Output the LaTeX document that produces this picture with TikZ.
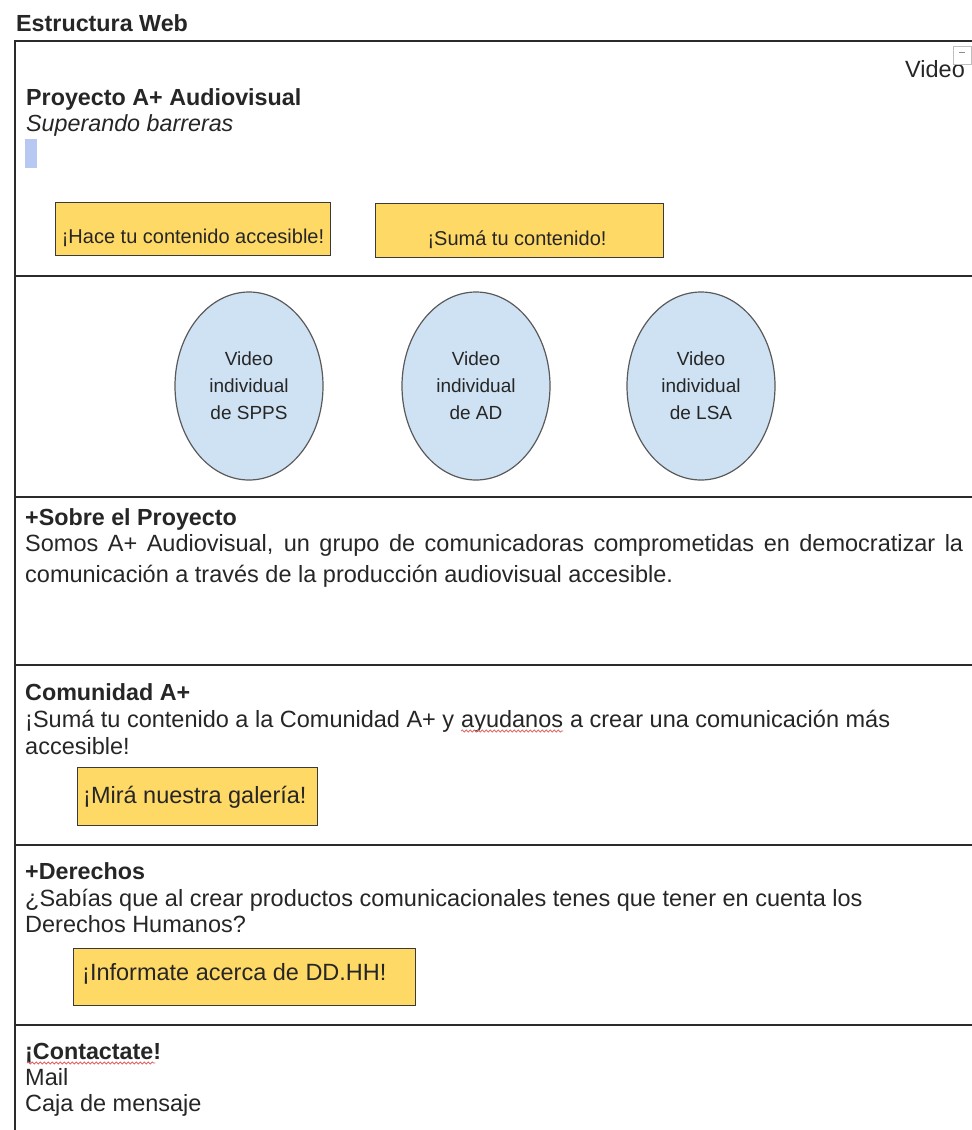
\documentclass[tikz,border=0pt]{standalone}
\usepackage{fontspec}
\setmainfont{Liberation Sans}
\usetikzlibrary{shapes.geometric,decorations.pathmorphing}
\definecolor{btnfill}{HTML}{FFD966}
\definecolor{btnline}{HTML}{3A3A3A}
\definecolor{vidfill}{HTML}{CFE2F3}
\definecolor{vidline}{HTML}{5A5A5A}
\definecolor{frameline}{HTML}{2B2B2B}
\definecolor{cursorblue}{HTML}{B7C8F2}
\definecolor{squigred}{HTML}{E06666}
\definecolor{textc}{HTML}{262626}
\newcommand\fsz[2]{\fontsize{#1pt}{#2pt}\selectfont}
\tikzset{
  body/.style={inner sep=0pt, anchor=base west, text=textc, font=\fsz{23.5}{28}},
  head/.style={body, font=\fsz{23.3}{28}\bfseries},
  btnbox/.style={draw=btnline, fill=btnfill, line width=1.3pt, inner sep=0pt, anchor=north west},
  btntext/.style={inner sep=0pt, text=textc, font=\fsz{20}{24}},
  vid/.style={ellipse, draw=vidline, fill=vidfill, line width=1.2pt, inner sep=0pt,
    minimum width=148pt, minimum height=188pt, align=center, text=textc, font=\fsz{19}{27}},
  frame/.style={draw=frameline, line width=1.8pt},
  squig/.style={draw=squigred, line width=0.8pt, decorate,
    decoration={snake, amplitude=1.1pt, segment length=4pt}},
}
\begin{document}
\begin{tikzpicture}[x=1pt,y=-1pt]
\useasboundingbox (0,0) rectangle (972,1130);
\fill[white] (0,0) rectangle (972,1130);

% title
\node[head] (title) at (16,31) {Estructura Web};

% frame and section dividers
\draw[frame] (15,1130) -- (15,41) -- (972,41);
\draw[frame] (15,276) -- (972,276);
\draw[frame] (15,497) -- (972,497);
\draw[frame] (15,665) -- (972,665);
\draw[frame] (15,845) -- (972,845);
\draw[frame] (15,1025) -- (972,1025);

% section 1
\node[head] (proy) at (26,105) {Proyecto A+ Audiovisual};
\node[body, font=\fsz{23.3}{28}\itshape] (sup) at (26,131) {Superando barreras};
\fill[cursorblue] (25,139) rectangle (37,168);
\node[body] (video) at (905,77) {Video};
\draw[draw=black!25, fill=white, line width=0.6pt] (953,46) rectangle (971,64);
\draw[black!45, line width=0.8pt] (959,52) -- (965,52);

\node[btnbox, minimum width=275pt, minimum height=53pt] (b1) at (55,202) {};
\node[btntext, anchor=base] (b1t) at (193,243) {¡Hace tu contenido accesible!};
\node[btnbox, minimum width=288pt, minimum height=54pt] (b2) at (375,203) {};
\node[btntext, anchor=base] (b2t) at (517,245) {¡Sumá tu contenido!};

% section 2
\node[vid] (v1) at (249,386) {Video\\individual\\de SPPS};
\node[vid] (v2) at (476,386) {Video\\individual\\de AD};
\node[vid] (v3) at (701,386) {Video\\individual\\de LSA};

% section 3
\node[head] (sobre) at (25,525) {+Sobre el Proyecto};
\node[body] (somos1) at (25,551) {\makebox[938pt][s]{Somos A+ Audiovisual, un grupo de comunicadoras comprometidas en democratizar la}};
\node[body] (somos2) at (25,582) {comunicación a través de la producción audiovisual accesible.};

% section 4
\node[head] (comu) at (25,700) {Comunidad A+};
\node[body] (s1) at (25,727) {¡Sumá tu contenido a la Comunidad A+ y};
\node[body] (s2) at ([xshift=6.5pt]s1.base east) {ayudanos};
\node[body] (s3) at ([xshift=6.5pt]s2.base east) {a crear una comunicación más};
\draw[squig] ([yshift=-4pt]s2.base west) -- ([yshift=-4pt]s2.base east);
\node[body] (acc) at (25,754) {accesible!};
\node[btnbox, minimum width=240pt, minimum height=58pt] (b3) at (77,767) {};
\node[body, anchor=base west] (b3t) at (83,803) {¡Mirá nuestra galería!};

% section 5
\node[head] (der) at (25,879) {+Derechos};
\node[body] (sab1) at (25,906) {¿Sabías que al crear productos comunicacionales tenes que tener en cuenta los};
\node[body] (sab2) at (25,932) {Derechos Humanos?};
\node[btnbox, minimum width=342pt, minimum height=57pt] (b4) at (73,948) {};
\node[body, anchor=base west] (b4t) at (82,980) {¡Informate acerca de DD.HH!};

% section 6
\node[head] (cont) at (25,1059) {¡Contactate!};
\draw[squig] ([yshift=-4pt,xshift=2pt]cont.base west) -- ([yshift=-4pt,xshift=-6pt]cont.base east);
\node[body] (mail) at (25,1085) {Mail};
\node[body] (caja) at (25,1111) {Caja de mensaje};
\end{tikzpicture}
\end{document}
